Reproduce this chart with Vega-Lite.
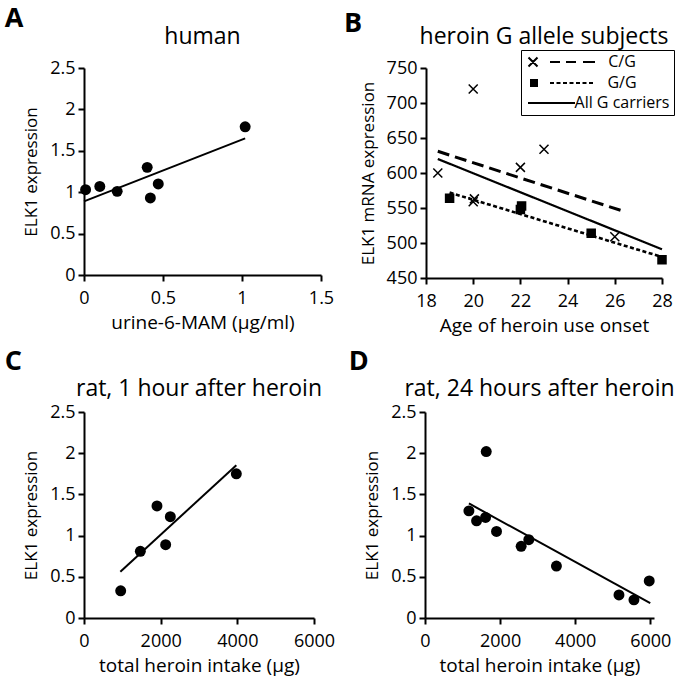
{
  "$schema": "https://vega.github.io/schema/vega-lite/v6.json",
  "background": "white",
  "padding": {"left": 4, "top": 5, "right": 5, "bottom": 8},
  "config": {
    "font": "Open Sans",
    "view": {"stroke": null},
    "axis": {"domainColor": "black", "domainWidth": 2, "tickColor": "black", "tickWidth": 2, "tickSize": 6, "labelColor": "black", "labelFontSize": 18, "titleFontWeight": "normal", "titleColor": "black", "grid": false, "labelFlush": false, "labelOverlap": false},
    "axisX": {"labelPadding": 8, "titleFontSize": 19, "titlePadding": 6},
    "axisY": {"labelPadding": 3, "titleFontSize": 17, "titlePadding": 9},
    "title": {"color": "black", "fontWeight": "normal", "fontSize": 23}
  },
  "datasets": {
    "a_points": [
      {"mam": 0.01, "elk1": 1.03}, {"mam": 0.1, "elk1": 1.07}, {"mam": 0.21, "elk1": 1.01},
      {"mam": 0.4, "elk1": 1.3}, {"mam": 0.42, "elk1": 0.93}, {"mam": 0.47, "elk1": 1.1}, {"mam": 1.02, "elk1": 1.79}
    ],
    "a_fit": [{"mam": 0, "elk1": 0.89}, {"mam": 1.02, "elk1": 1.65}],
    "b_points": [
      {"genotype": "C/G", "age": 18.5, "elk1": 600}, {"genotype": "C/G", "age": 20, "elk1": 720},
      {"genotype": "C/G", "age": 20, "elk1": 559}, {"genotype": "C/G", "age": 20.05, "elk1": 563},
      {"genotype": "C/G", "age": 22, "elk1": 608}, {"genotype": "C/G", "age": 23, "elk1": 634},
      {"genotype": "C/G", "age": 26, "elk1": 509},
      {"genotype": "G/G", "age": 19, "elk1": 564}, {"genotype": "G/G", "age": 22, "elk1": 548},
      {"genotype": "G/G", "age": 22.05, "elk1": 553}, {"genotype": "G/G", "age": 25, "elk1": 514},
      {"genotype": "G/G", "age": 28, "elk1": 476}
    ],
    "b_fits": [
      {"series": "C/G", "age": 18.5, "elk1": 631}, {"series": "C/G", "age": 26.4, "elk1": 545},
      {"series": "G/G", "age": 19, "elk1": 572}, {"series": "G/G", "age": 28, "elk1": 480},
      {"series": "All G carriers", "age": 18.5, "elk1": 620}, {"series": "All G carriers", "age": 28, "elk1": 491}
    ],
    "c_points": [
      {"intake": 957, "elk1": 0.33}, {"intake": 1470, "elk1": 0.81}, {"intake": 1904, "elk1": 1.36},
      {"intake": 2130, "elk1": 0.89}, {"intake": 2252, "elk1": 1.23}, {"intake": 3974, "elk1": 1.75}
    ],
    "c_fit": [{"intake": 948, "elk1": 0.56}, {"intake": 3974, "elk1": 1.855}],
    "d_points": [
      {"intake": 1170, "elk1": 1.3}, {"intake": 1374, "elk1": 1.18}, {"intake": 1613, "elk1": 1.22},
      {"intake": 1631, "elk1": 2.02}, {"intake": 1905, "elk1": 1.05}, {"intake": 2561, "elk1": 0.87},
      {"intake": 2765, "elk1": 0.95}, {"intake": 3501, "elk1": 0.63}, {"intake": 5167, "elk1": 0.28},
      {"intake": 5566, "elk1": 0.22}, {"intake": 5973, "elk1": 0.45}
    ],
    "d_fit": [{"intake": 1170, "elk1": 1.39}, {"intake": 6000, "elk1": 0.18}]
  },
  "spacing": 13,
  "vconcat": [
    {
      "spacing": 10,
      "hconcat": [
        {
          "title": {"text": "A", "anchor": "start", "fontSize": 27, "fontWeight": "bold", "offset": -7, "dx": -18},
          "vconcat": [
            {
              "title": {"text": "human", "offset": 10},
              "width": 237, "height": 207,
              "layer": [
                {
                  "data": {"name": "a_fit"},
                  "mark": {"type": "line", "color": "black", "strokeWidth": 2},
                  "encoding": {
                    "x": {"field": "mam", "type": "quantitative", "scale": {"domain": [0, 1.5], "nice": false}, "axis": {"values": [0, 0.5, 1, 1.5], "tickCount": 20, "format": "~g", "title": "urine-6-MAM (µg/ml)"}},
                    "y": {"field": "elk1", "type": "quantitative", "scale": {"domain": [0, 2.5], "nice": false}, "axis": {"values": [0, 0.5, 1, 1.5, 2, 2.5], "tickCount": 20, "format": "~g", "title": "ELK1 expression"}}
                  }
                },
                {
                  "data": {"name": "a_points"},
                  "mark": {"type": "circle", "size": 120, "color": "black", "opacity": 1},
                  "encoding": {
                    "x": {"field": "mam", "type": "quantitative"},
                    "y": {"field": "elk1", "type": "quantitative"}
                  }
                }
              ]
            }
          ]
        },
        {
          "title": {"text": "B", "anchor": "start", "fontSize": 27, "fontWeight": "bold", "offset": -12, "dx": -15},
          "vconcat": [
            {
              "title": {"text": "heroin G allele subjects", "offset": 1},
              "width": 236, "height": 210,
              "layer": [
                {
                  "data": {"name": "b_fits"},
                  "mark": {"type": "line", "color": "black"},
                  "encoding": {
                    "x": {"field": "age", "type": "quantitative", "scale": {"domain": [18, 28], "nice": false}, "axis": {"values": [18, 20, 22, 24, 26, 28], "tickCount": 20, "format": "~g", "title": "Age of heroin use onset"}},
                    "y": {"field": "elk1", "type": "quantitative", "scale": {"domain": [450, 750], "nice": false, "zero": false}, "axis": {"values": [450, 500, 550, 600, 650, 700, 750], "tickCount": 20, "format": "d", "title": "ELK1 mRNA expression"}},
                    "strokeDash": {"field": "series", "type": "nominal", "scale": {"domain": ["C/G", "G/G", "All G carriers"], "range": [[12, 6], [4, 2.5], [1, 0]]}, "legend": null},
                    "strokeWidth": {"field": "series", "type": "nominal", "scale": {"domain": ["C/G", "G/G", "All G carriers"], "range": [3, 2.2, 2.2]}, "legend": null}
                  }
                },
                {
                  "data": {"name": "b_points"},
                  "mark": {"type": "point", "filled": true, "fill": "black", "stroke": "black", "strokeWidth": 1.5, "opacity": 1},
                  "encoding": {
                    "x": {"field": "age", "type": "quantitative"},
                    "y": {"field": "elk1", "type": "quantitative"},
                    "shape": {"field": "genotype", "type": "nominal", "scale": {"domain": ["C/G", "G/G"], "range": ["M-1,-1L1,1M-1,1L1,-1", "square"]}, "legend": null},
                    "size": {"field": "genotype", "type": "nominal", "scale": {"domain": ["C/G", "G/G"], "range": [81, 64]}, "legend": null}
                  }
                },
                {
                  "data": {"name": "b_fits"},
                  "mark": {"type": "point", "filled": false, "color": "black", "strokeWidth": 2, "opacity": 0, "size": 100},
                  "encoding": {
                    "x": {"field": "age", "type": "quantitative"},
                    "y": {"field": "elk1", "type": "quantitative"},
                    "shape": {
                      "field": "series", "type": "nominal",
                      "scale": {"domain": ["C/G", "G/G", "All G carriers"], "range": [
                        "M-0.9,-0.9L0.9,0.9M-0.9,0.9L0.9,-0.9M3.4,0H5.4M6.6,0H8.6M10,0H12.4",
                        "M-0.6,-0.6H1M-0.6,-0.2H1M-0.6,0.2H1M-0.6,0.6H1M3.4,0H4.2M4.7,0H5.5M6,0H6.8M7.3,0H8.1M8.6,0H9.4M9.9,0H10.7M11.2,0H12",
                        "M-1,0H8.4"
                      ]},
                      "legend": {"title": null, "orient": "none", "legendX": 95, "legendY": -18, "strokeColor": "black", "padding": 4, "symbolSize": 100, "symbolStrokeColor": "black", "symbolStrokeWidth": 2, "symbolOpacity": 1, "labelFontSize": 16, "labelColor": "black", "labelAlign": "center", "labelOffset": 81, "symbolOffset": 0, "rowPadding": 4}
                    }
                  }
                }
              ],
              "resolve": {"scale": {"shape": "independent", "size": "independent"}}
            }
          ]
        }
      ]
    },
    {
      "spacing": 13,
      "hconcat": [
        {
          "title": {"text": "C", "anchor": "start", "fontSize": 27, "fontWeight": "bold", "offset": 2, "dx": -18},
          "vconcat": [
            {
              "title": {"text": "rat, 1 hour after heroin", "offset": 2},
              "width": 230, "height": 206,
              "layer": [
                {
                  "data": {"name": "c_fit"},
                  "mark": {"type": "line", "color": "black", "strokeWidth": 2},
                  "encoding": {
                    "x": {"field": "intake", "type": "quantitative", "scale": {"domain": [0, 6000], "nice": false}, "axis": {"values": [0, 2000, 4000, 6000], "tickCount": 20, "format": "d", "title": "total heroin intake (µg)"}},
                    "y": {"field": "elk1", "type": "quantitative", "scale": {"domain": [0, 2.5], "nice": false}, "axis": {"values": [0, 0.5, 1, 1.5, 2, 2.5], "tickCount": 20, "format": "~g", "title": "ELK1 expression"}}
                  }
                },
                {
                  "data": {"name": "c_points"},
                  "mark": {"type": "circle", "size": 120, "color": "black", "opacity": 1},
                  "encoding": {
                    "x": {"field": "intake", "type": "quantitative"},
                    "y": {"field": "elk1", "type": "quantitative"}
                  }
                }
              ]
            }
          ]
        },
        {
          "title": {"text": "D", "anchor": "start", "fontSize": 27, "fontWeight": "bold", "offset": 2, "dx": -15},
          "vconcat": [
            {
              "title": {"text": "rat, 24 hours after heroin", "offset": 2},
              "width": 229, "height": 206,
              "layer": [
                {
                  "data": {"name": "d_fit"},
                  "mark": {"type": "line", "color": "black", "strokeWidth": 2},
                  "encoding": {
                    "x": {"field": "intake", "type": "quantitative", "scale": {"domain": [0, 6100], "nice": false}, "axis": {"values": [0, 2000, 4000, 6000], "tickCount": 20, "format": "d", "title": "total heroin intake (µg)"}},
                    "y": {"field": "elk1", "type": "quantitative", "scale": {"domain": [0, 2.5], "nice": false}, "axis": {"values": [0, 0.5, 1, 1.5, 2, 2.5], "tickCount": 20, "format": "~g", "title": "ELK1 expression"}}
                  }
                },
                {
                  "data": {"name": "d_points"},
                  "mark": {"type": "circle", "size": 120, "color": "black", "opacity": 1},
                  "encoding": {
                    "x": {"field": "intake", "type": "quantitative"},
                    "y": {"field": "elk1", "type": "quantitative"}
                  }
                }
              ]
            }
          ]
        }
      ]
    }
  ]
}
